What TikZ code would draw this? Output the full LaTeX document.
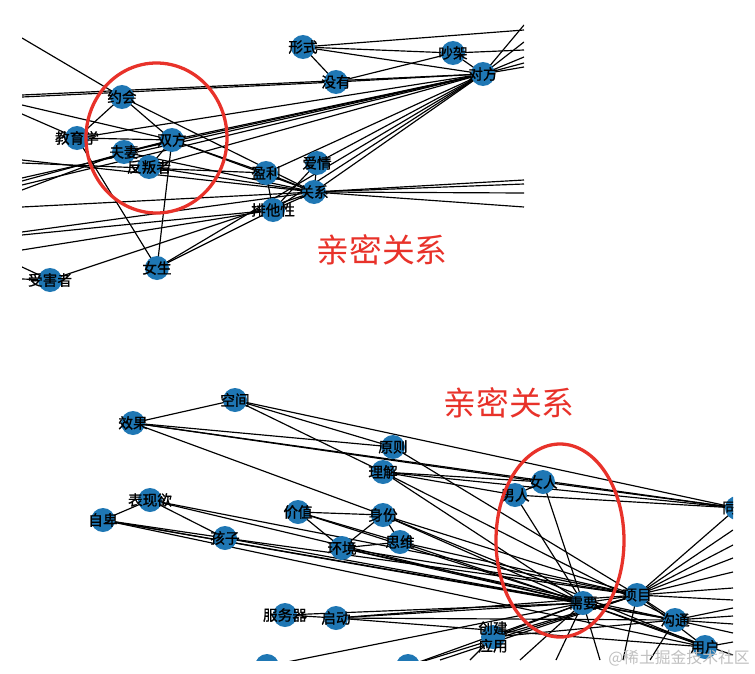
\documentclass[tikz,border=0pt]{standalone}
\usepackage{fontspec}
\setmainfont{Noto Sans CJK SC}
\newfontfamily\lblfont[FakeBold=1.2]{Noto Sans CJK SC}
\usetikzlibrary{backgrounds}
\definecolor{nodeblue}{HTML}{1F77B4}
\definecolor{markred}{HTML}{E8322A}

\begin{document}
\begin{tikzpicture}[x=0.03cm,y=-0.03cm,
  vtx/.style={circle,fill=nodeblue,minimum size=0.72cm,inner sep=0pt},
  lbl/.style={font=\lblfont\fontsize{12.5}{15}\selectfont,align=center,inner sep=0pt},
  edge/.style={line width=1pt},
  ring/.style={draw=markred,line width=2.8pt},
  tag/.style={text=markred,font=\fontsize{28}{30}\selectfont}]
  \useasboundingbox (0,0) rectangle (755,674);

  % upper graph
  \begin{scope}
    \clip (22,20) rectangle (524,295);
    \node[vtx] (yh) at (122,97) {};
    \node[vtx] (jyx) at (77,138) {};
    \node[vtx] (sf) at (172,140) {};
    \node[vtx] (fq) at (124,152) {};
    \node[vtx] (fpz) at (149,167) {};
    \node[vtx] (ns) at (157,268) {};
    \node[vtx] (shz) at (50,280) {};
    \node[vtx] (xs) at (303,47) {};
    \node[vtx] (my) at (336,82) {};
    \node[vtx] (cj) at (453,53) {};
    \node[vtx] (df) at (483,74) {};
    \node[vtx] (yl) at (266,173) {};
    \node[vtx] (aq) at (317,163) {};
    \node[vtx] (gx) at (314,192) {};
    \node[vtx] (ptx) at (273,210) {};
    \foreach \n/\t in {yh/约会,jyx/教育学,sf/双方,fq/夫妻,fpz/反叛者,ns/女生,shz/受害者,
        xs/形式,my/没有,cj/吵架,df/对方,yl/盈利,aq/爱情,gx/关系,ptx/排他性}
      \node[lbl] at (\n) {\t};
  \end{scope}

  % lower graph
  \begin{scope}
    \clip (80,375) rectangle (733,660);
    \node[vtx] (kj) at (235,400) {};
    \node[vtx] (xg) at (133,423) {};
    \node[vtx] (yz) at (393,447) {};
    \node[vtx] (lj) at (383,472) {};
    \node[vtx] (bxy) at (150,500) {};
    \node[vtx] (zb) at (103,520) {};
    \node[vtx] (hz) at (225,538) {};
    \node[vtx] (jz) at (298,512) {};
    \node[vtx] (sfn) at (383,515) {};
    \node[vtx] (siw) at (400,542) {};
    \node[vtx] (hj) at (342,548) {};
    \node[vtx] (nanr) at (515,495) {};
    \node[vtx] (nvr) at (543,482) {};
    \node[vtx] (tong) at (737,508) {};
    \node[vtx] (xuy) at (583,603) {};
    \node[vtx] (xm) at (637,595) {};
    \node[vtx] (gt) at (675,620) {};
    \node[vtx] (yhu) at (705,647) {};
    \node[vtx] (cjyy) at (493,637) {};
    \node[vtx] (fwq) at (285,615) {};
    \node[vtx] (qd) at (336,618) {};
    \node[vtx] (pa) at (267,666) {};
    \node[vtx] (pb) at (408,666) {};
    \foreach \n/\t in {kj/空间,xg/效果,yz/原则,lj/理解,bxy/表现欲,zb/自卑,hz/孩子,jz/价值,
        sfn/身份,siw/思维,hj/环境,nanr/男人,nvr/女人,xuy/需要,xm/项目,
        gt/沟通,yhu/用户,cjyy/{创建\\应用},fwq/服务器,qd/启动}
      \node[lbl] at (\n) {\t};
    \node[lbl,anchor=west] at ([xshift=-0.45cm]tong.center) {同};
  \end{scope}

  \begin{scope}[on background layer]
    \begin{scope}
      \clip (22,20) rectangle (524,295);
      \coordinate (tl1) at (22,38);   \coordinate (tl2) at (22,95);
      \coordinate (tl3) at (22,97);   \coordinate (tl4) at (22,105);
      \coordinate (tl5) at (22,114);  \coordinate (tl6) at (22,160);
      \coordinate (tl7) at (22,163);  \coordinate (tl8) at (22,178);
      \coordinate (tl9) at (22,181);  \coordinate (tl10) at (22,185);
      \coordinate (tl11) at (22,190); \coordinate (tl12) at (22,207);
      \coordinate (tl13) at (22,232); \coordinate (tl14) at (22,235);
      \coordinate (tl15) at (22,250); \coordinate (tl16) at (22,267);
      \coordinate (tl17) at (22,279);
      \coordinate (tr1) at (524,25);  \coordinate (tr2) at (524,30);
      \coordinate (tr3) at (524,42);  \coordinate (tr4) at (524,50);
      \coordinate (tr5) at (524,57);  \coordinate (tr6) at (524,63);
      \coordinate (tr7) at (524,67);  \coordinate (tr8) at (524,180);
      \coordinate (tr9) at (524,184); \coordinate (tr10) at (524,193);
      \coordinate (tr11) at (524,207);
      \foreach \a/\b in {tl1/yh,tl2/df,tl3/my,tl4/sf,tl5/jyx,tl6/gx,tl7/yl,tl8/df,tl9/sf,
          tl10/df,tl11/fq,tl12/gx,tl13/gx,tl14/ptx,tl15/ptx,tl16/shz,tl17/shz,
          tr1/df,tr2/xs,tr3/df,tr4/cj,tr5/df,tr6/df,tr7/df,tr8/gx,tr9/gx,tr10/gx,tr11/gx,
          yh/jyx,yh/sf,yh/gx,jyx/sf,jyx/ns,jyx/df,fq/df,sf/df,fpz/df,fq/sf,fpz/sf,
          sf/ns,sf/yl,sf/gx,fpz/gx,fq/gx,ns/ptx,ns/df,shz/gx,xs/my,xs/cj,xs/df,
          my/cj,my/df,cj/df,yl/ptx,yl/df,yl/gx,aq/df,aq/gx,ptx/df,ptx/gx,gx/df,aq/ptx}
        \draw[edge] (\a.center) -- (\b.center);
    \end{scope}
    \begin{scope}
      \clip (80,375) rectangle (733,660);
      \coordinate (br1) at (733,530);  \coordinate (br2) at (733,545);
      \coordinate (br3) at (733,558);  \coordinate (br4) at (733,572);
      \coordinate (br5) at (733,588);  \coordinate (br6) at (733,600);
      \coordinate (br7) at (733,608);  \coordinate (br8) at (733,616);
      \coordinate (br9) at (733,624);  \coordinate (br10) at (733,633);
      \coordinate (br11) at (733,655); \coordinate (br12) at (733,642);
      \coordinate (bb1) at (520,660);  \coordinate (bb2) at (556,660);
      \coordinate (bb3) at (600,660);  \coordinate (bb4) at (623,660);
      \coordinate (bb5) at (650,660);  \coordinate (bb6) at (470,660);
      \coordinate (bb7) at (440,660);
      \foreach \a/\b in {xg/kj,kj/lj,kj/yz,kj/tong,xg/yz,xg/tong,xg/nvr,xg/sfn,yz/xm,
          lj/nvr,lj/tong,lj/nanr,lj/xuy,lj/gt,nanr/nvr,nanr/xuy,nvr/xuy,nanr/tong,nvr/tong,
          bxy/zb,bxy/hz,bxy/xuy,bxy/xm,zb/hz,zb/xuy,zb/gt,zb/yhu,hz/xuy,hz/xm,
          jz/sfn,jz/hj,jz/siw,jz/xuy,sfn/hj,sfn/siw,sfn/xuy,sfn/xm,sfn/yhu,hj/siw,hj/xuy,
          hj/xm,hj/gt,siw/xuy,siw/xm,fwq/qd,fwq/xuy,qd/xuy,qd/xm,qd/gt,qd/yhu,
          cjyy/xuy,cjyy/xm,cjyy/gt,pa/xuy,pb/xuy,pb/xm,xuy/xm,xuy/gt,xuy/yhu,xm/gt,xm/yhu,xm/tong,
          br1/xm,br2/xm,br3/xm,br4/xm,br5/xm,br6/xm,br7/gt,br8/gt,br9/gt,br10/gt,
          br11/xuy,br12/yhu,bb1/xuy,bb2/xuy,bb3/xuy,bb4/xm,bb5/gt,bb6/cjyy,bb7/xm}
        \draw[edge] (\a.center) -- (\b.center);
    \end{scope}
  \end{scope}

  \draw[ring] (156.5,138) ellipse (70.5 and 75);
  \node[tag] (tagtop) at (382,250) {亲密关系};
  \draw[ring] (560,540.5) ellipse (64 and 96.5);
  \node[tag] (tagbot) at (509,403) {亲密关系};
  \node[text=black!25,font=\fontsize{13.5}{15}\selectfont] (mark) at (679,658) {@稀土掘金技术社区};
\end{tikzpicture}
\end{document}
